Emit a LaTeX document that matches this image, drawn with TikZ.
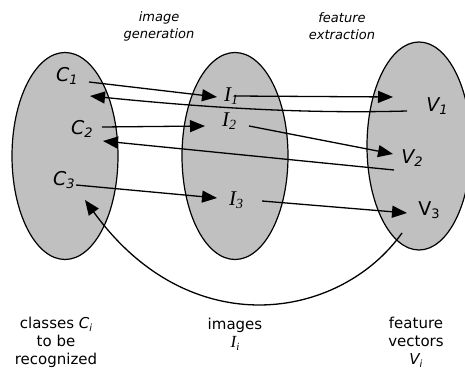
\documentclass[tikz,border=0pt]{standalone}
\usepackage{fontspec}
\setmainfont{DejaVu Sans}
\newfontfamily\timesfont{Liberation Serif}
\usetikzlibrary{arrows.meta,shapes.geometric}
\definecolor{setgray}{RGB}{192,192,192}
\newcommand{\idx}[2][13]{\raisebox{-0.35ex}{\fontsize{#1}{#1}\selectfont #2}}
\tikzset{
  setshape/.style={draw,ellipse,fill=setgray,line width=1.2pt},
  lab/.style={font=\fontsize{19}{19}\selectfont,inner sep=1pt},
  bottomtext/.style={align=center,font=\fontsize{15}{18}\selectfont},
  toptext/.style={align=center,font=\itshape\fontsize{13}{17}\selectfont},
  arr/.style={line width=1.3pt,-{Triangle[length=15pt,width=12pt]}}
}
\begin{document}
\begin{tikzpicture}[x=1pt,y=-1pt]
        \useasboundingbox (0,0) rectangle (465,371);
        \clip (0,0) rectangle (465,371);
        %% the three sets
        \node[setshape,minimum width=106pt,minimum height=207pt] (Cset) at (65,156) {};
        \node[setshape,minimum width=106pt,minimum height=207pt] (Iset) at (235,156) {};
        \node[setshape,minimum width=104pt,minimum height=208pt] (Vset) at (419,146) {};
        %% classes
        \node[lab] (C1) at (67,76) {\itshape C\idx{1}};
        \node[lab] (C2) at (82,129) {\itshape C\idx{2}};
        \node[lab] (C3) at (64,180) {\itshape C\idx{3}};
        %% images
        \node[lab] (I1) at (231,96) {\timesfont\itshape\fontsize{21}{21}\selectfont I\idx[14]{1}};
        \node[lab] (I2) at (229,121) {\timesfont\itshape\fontsize{21}{21}\selectfont I\idx[14]{2}};
        \node[lab] (I3) at (236,200) {\timesfont\itshape\fontsize{21}{21}\selectfont I\idx[14]{3}};
        %% feature vectors
        \node[lab] (V1) at (437,106) {\itshape V\idx{1}};
        \node[lab] (V2) at (412,158) {\itshape V\idx{2}};
        \node[lab] (V3) at (429,210) {V\idx{3}};
        %% arrow ends
        \coordinate (C1out) at (89,82);
        \coordinate (C2out) at (102,127);
        \coordinate (C3out) at (76,185);
        \coordinate (I1out) at (234,96);
        \coordinate (I2out) at (249,126);
        \coordinate (I3out) at (262,201);
        \coordinate (V1out) at (407,111);
        \coordinate (V2out) at (394,170);
        \coordinate (V3out) at (402,233);
        \coordinate (C1in) at (90,96);
        \coordinate (C2in) at (103,141);
        \coordinate (C3in) at (85,200);
        \coordinate (I1in) at (217,97);
        \coordinate (I2in) at (205,126);
        \coordinate (I3in) at (217,198);
        \coordinate (V1in) at (393,97);
        \coordinate (V2in) at (393,154);
        \coordinate (V3in) at (407,213);
        %% image generation
        \draw[arr] (C1out) -- (I1in);
        \draw[arr] (C2out) -- (I2in);
        \draw[arr] (C3out) -- (I3in);
        %% feature extraction
        \draw[arr] (I1out) -- (V1in);
        \draw[arr] (I2out) -- (V2in);
        \draw[arr] (I3out) -- (V3in);
        %% back to the classes
        \draw[arr] (V1out) .. controls (300,114) and (200,107) .. (C1in);
        \draw[arr] (V2out) -- (C2in);
        \draw[arr] (V3out) .. controls (340,320) and (190,345) .. (C3in);
        %% captions
        \node[toptext] (gen) at (159,26) {image\\generation};
        \node[toptext] (ext) at (342,26) {feature\\extraction};
        \node[bottomtext] (Ccap) at (56,342) {classes \textit{C\idx[10]{i}}\\to be\\recognized};
        \node[bottomtext] (Icap) at (235,334) {images\\{\timesfont\itshape\fontsize{17}{17}\selectfont I\idx[11]{i}}};
        \node[bottomtext] (Vcap) at (416,342) {feature\\vectors\\\textit{V\idx[10]{i}}};
\end{tikzpicture}
\end{document}
